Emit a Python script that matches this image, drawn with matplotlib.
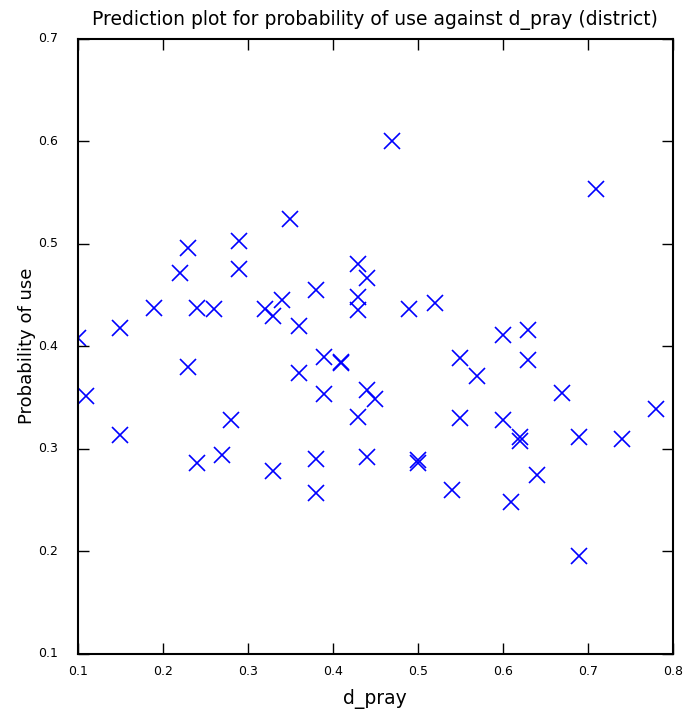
import numpy as np
import matplotlib
matplotlib.use('Agg')
import matplotlib.pyplot as plt

# d_pray values (x) and predicted probability of use (y)
d_pray = [0.10, 0.11, 0.15, 0.15, 0.19, 0.22, 0.23, 0.23, 0.24, 0.24,
          0.26, 0.27, 0.28, 0.29, 0.29, 0.32, 0.33, 0.33, 0.34, 0.35,
          0.36, 0.36, 0.38, 0.38, 0.38, 0.39, 0.39, 0.41, 0.41, 0.43,
          0.43, 0.43, 0.43, 0.44, 0.44, 0.44, 0.45, 0.47, 0.49, 0.50,
          0.50, 0.52, 0.54, 0.55, 0.55, 0.57, 0.60, 0.60, 0.61, 0.62,
          0.62, 0.63, 0.63, 0.64, 0.67, 0.69, 0.69, 0.71, 0.74, 0.78]
prob_use = [0.408, 0.351, 0.418, 0.313, 0.437, 0.471, 0.496, 0.380, 0.437, 0.286,
            0.436, 0.294, 0.328, 0.502, 0.475, 0.436, 0.429, 0.278, 0.445, 0.524,
            0.420, 0.374, 0.455, 0.290, 0.257, 0.389, 0.353, 0.383, 0.384, 0.480,
            0.448, 0.435, 0.331, 0.466, 0.357, 0.292, 0.348, 0.600, 0.436, 0.289,
            0.286, 0.442, 0.260, 0.388, 0.330, 0.371, 0.411, 0.328, 0.248, 0.307,
            0.311, 0.416, 0.386, 0.274, 0.354, 0.311, 0.195, 0.553, 0.309, 0.339]

x_ticks = [0.1, 0.2, 0.3, 0.4, 0.5, 0.6, 0.7, 0.8]
y_ticks = [0.1, 0.2, 0.3, 0.4, 0.5, 0.6, 0.7]

plt.style.use('classic')
fig = plt.figure(figsize=(6.88, 7.18), dpi=100, facecolor='white')
ax = fig.add_axes([0.113, 0.0898, 0.865, 0.8565])
ax.set_facecolor('white')

ax.plot(d_pray, prob_use, 'x', color='blue', markersize=12, markeredgewidth=1.2)

ax.set_xlim(0.1, 0.8)
ax.set_ylim(0.1, 0.7)
ax.set_xticks(x_ticks)
ax.set_yticks(y_ticks)
ax.tick_params(axis='both', which='major', labelsize=9, direction='in',
               length=8, width=1, top=True, right=True)
ax.tick_params(axis='x', pad=8)
ax.tick_params(axis='y', pad=14)
for s in ax.spines.values():
    s.set_linewidth(1.5)

ax.set_xlabel('d_pray', fontsize=13.5, labelpad=8)
ax.set_ylabel('Probability of use', fontsize=13, labelpad=2)
ax.set_title('Prediction plot for probability of use against d_pray (district)',
             fontsize=13.5, pad=10)

fig.savefig('out.png', dpi=100, facecolor='white')
